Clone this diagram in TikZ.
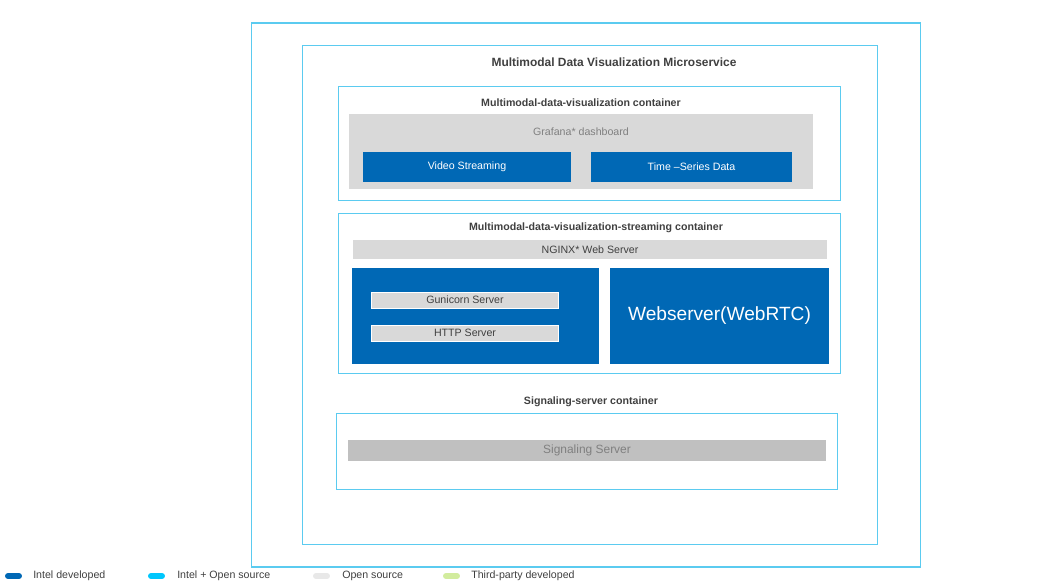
\documentclass[tikz,border=0pt]{standalone}
\usepackage{fontspec}
\setmainfont{Liberation Sans}
\usetikzlibrary{positioning}
\definecolor{intelblue}{HTML}{0068B5}
\definecolor{intelcyan}{HTML}{00C7FD}
\definecolor{framecyan}{HTML}{5BCBF0}
\definecolor{osgray}{HTML}{D9D9D9}
\definecolor{darkgray}{HTML}{C0C0C0}
\definecolor{txtgray}{HTML}{404040}
\definecolor{thirdgreen}{HTML}{D2EC9E}
\begin{document}
\begin{tikzpicture}[x=0.0264583cm, y=-0.0264583cm,
  framebox/.style={draw=framecyan, thick, inner sep=0pt},
  bluebox/.style={fill=intelblue, text=white, inner sep=0pt, font=\footnotesize},
  graybox/.style={fill=osgray, draw=white, inner sep=0pt, font=\footnotesize, text=txtgray},
  title/.style={font=\footnotesize\bfseries, text=txtgray},
  pill/.style={line width=4.5pt, line cap=round},
  legendtext/.style={font=\footnotesize, text=txtgray, anchor=west, inner sep=0pt}
]
\useasboundingbox (0,0) rectangle (1041,586);

%Frames
\node[framebox, minimum width=672*0.75pt, minimum height=546*0.75pt] (outer) at (586,295) {};
\node[framebox, minimum width=578*0.75pt, minimum height=500*0.75pt] (inner) at (590,295) {};
\node[title, font=\small\bfseries] (mtitle) at (614,62) {Multimodal Data Visualization Microservice};

%Container 1
\node[framebox, minimum width=503*0.75pt, minimum height=115*0.75pt] (viz) at (589.5,143.5) {};
\node[title] (vizlabel) at (581,103) {Multimodal-data-visualization container};
\node[graybox, draw=none, minimum width=466*0.75pt, minimum height=75*0.75pt] (grafana) at (581,151.5) {};
\node[font=\footnotesize, text=gray] (grafanalabel) at (581,132) {Grafana* dashboard};
\node[bluebox, minimum width=208*0.75pt, minimum height=30*0.75pt] (video) at (467,167) {Video Streaming};
\node[bluebox, minimum width=201*0.75pt, minimum height=30*0.75pt] (timeseries) at (691.5,167) {Time --Series Data};

%Container 2
\node[framebox, minimum width=503*0.75pt, minimum height=161*0.75pt] (stream) at (589.5,293.5) {};
\node[title] (streamlabel) at (596,228) {Multimodal-data-visualization-streaming container};
\node[graybox, draw=none, minimum width=476*0.75pt, minimum height=19*0.75pt] (nginx) at (590,249.5) {NGINX* Web Server};
\node[bluebox, minimum width=247*0.75pt, minimum height=96*0.75pt] (pyserver) at (475.5,316) {};
\node[graybox, minimum width=188*0.75pt, minimum height=16*0.75pt] (gunicorn) at (465,300) {Gunicorn Server};
\node[graybox, minimum width=188*0.75pt, minimum height=16*0.75pt] (http) at (465,333) {HTTP Server};
\node[bluebox, font=\Large, minimum width=219*0.75pt, minimum height=96*0.75pt] (webrtc) at (719.5,316) {Webserver(WebRTC)};

%Container 3
\node[title] (signallabel) at (591,402) {Signaling-server container};
\node[framebox, minimum width=502*0.75pt, minimum height=77*0.75pt] (signal) at (587,451.5) {};
\node[fill=darkgray, text=gray, font=\small, inner sep=0pt, minimum width=480*0.75pt, minimum height=21*0.75pt] (signalserver) at (587,450.5) {Signaling Server};

%Legend
\draw[pill, intelblue] (8,576) -- (19,576);
\node[legendtext] (lgintel) at (33,576) {Intel developed};
\draw[pill, intelcyan] (151,576) -- (162,576);
\node[legendtext] (lgopen) at (177,576) {Intel + Open source};
\draw[pill, osgray!60] (316,576) -- (327,576);
\node[legendtext] (lgos) at (342,576) {Open source};
\draw[pill, thirdgreen] (446,576) -- (457,576);
\node[legendtext] (lgthird) at (471,576) {Third-party developed};
\end{tikzpicture}
\end{document}
